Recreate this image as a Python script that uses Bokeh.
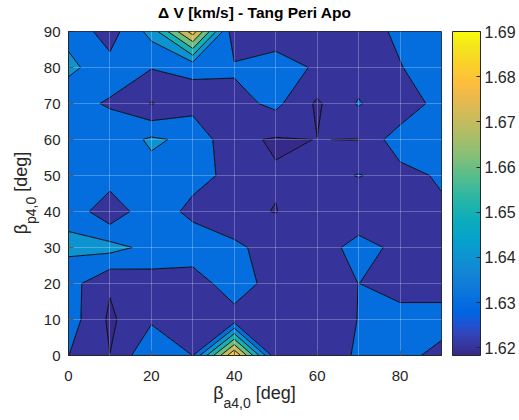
import numpy as np
from bokeh.plotting import figure
from bokeh.models import (ColorBar, LinearColorMapper, FixedTicker, Div,
                          Range1d, PrintfTickFormatter)
from bokeh.layouts import row, column
from bokeh.embed import file_html
from bokeh.resources import INLINE

# ---------------- data ----------------
beta_a4 = [0, 10, 20, 30, 40, 50, 60, 70, 80, 90]   # x grid [deg]
beta_p4 = [0, 10, 20, 30, 40, 50, 60, 70, 80, 90]   # y grid [deg]

# Delta V [km/s]; one list per beta_p4 row, values along beta_a4
dv_p00 = [1.6301, 1.6201, 1.6391, 1.6299, 1.6900, 1.6233, 1.6210, 1.6320, 1.6330, 1.6271]
dv_p10 = [1.6350, 1.6183, 1.6285, 1.6250, 1.6240, 1.6240, 1.6250, 1.6302, 1.6340, 1.6340]
dv_p20 = [1.6342, 1.6211, 1.6253, 1.6226, 1.6380, 1.6235, 1.6240, 1.6301, 1.6255, 1.6255]
dv_p30 = [1.6420, 1.6435, 1.6370, 1.6387, 1.6325, 1.6247, 1.6238, 1.6345, 1.6269, 1.6260]
dv_p40 = [1.6375, 1.6225, 1.6380, 1.6264, 1.6213, 1.6198, 1.6238, 1.6213, 1.6250, 1.6280]
dv_p50 = [1.6350, 1.6357, 1.6368, 1.6344, 1.6265, 1.6206, 1.6260, 1.6305, 1.6260, 1.6316]
dv_p60 = [1.6350, 1.6340, 1.6415, 1.6377, 1.6217, 1.6192, 1.6201, 1.6198, 1.6365, 1.6360]
dv_p70 = [1.6322, 1.6293, 1.6195, 1.6260, 1.6264, 1.6325, 1.6185, 1.6310, 1.6203, 1.6359]
dv_p80 = [1.6427, 1.6334, 1.6305, 1.6320, 1.6315, 1.6340, 1.6289, 1.6240, 1.6295, 1.6360]
dv_p90 = [1.6366, 1.6256, 1.6435, 1.6850, 1.6221, 1.6251, 1.6250, 1.6251, 1.6320, 1.6370]

contour_levels = [1.62, 1.63, 1.64, 1.65, 1.66, 1.67, 1.68]
cbar_ticks = [1.62, 1.63, 1.64, 1.65, 1.66, 1.67, 1.68, 1.69]
x_ticks = [0, 20, 40, 60, 80]
x_minor = [10, 30, 50, 70, 90]
y_ticks = [0, 10, 20, 30, 40, 50, 60, 70, 80, 90]

title_text = "\u0394 V [km/s] - Tang Peri Apo"

# parula colormap anchors (position in 0..63, rgb 0..1)
par_idx = [0, 2, 4, 6, 8, 10, 14, 18, 22, 26, 30, 34, 38, 42, 46, 50, 53, 56, 60, 63]
par_r = [0.2081, 0.2123, 0.1959, 0.1253, 0.0117, 0.0165, 0.0723, 0.0641, 0.0239, 0.0384,
         0.1453, 0.3022, 0.4871, 0.6473, 0.7858, 0.9139, 0.9938, 0.9880, 0.9589, 0.9763]
par_g = [0.1663, 0.2138, 0.2645, 0.3242, 0.3875, 0.4266, 0.4887, 0.5570, 0.6287, 0.6743,
         0.7098, 0.7376, 0.7491, 0.7456, 0.7356, 0.7258, 0.7455, 0.8066, 0.8949, 0.9831]
par_b = [0.5292, 0.6270, 0.7279, 0.8303, 0.8820, 0.8786, 0.8467, 0.8240, 0.8038, 0.7436,
         0.6646, 0.5712, 0.4840, 0.4188, 0.3633, 0.3063, 0.2403, 0.1794, 0.1132, 0.0538]

z = np.array([dv_p00, dv_p10, dv_p20, dv_p30, dv_p40, dv_p50, dv_p60, dv_p70, dv_p80, dv_p90])
zmin, zmax = float(z.min()), float(z.max())
pos = np.array(par_idx) / 63.0


def cmap_t(t):
    r = np.interp(t, pos, par_r)
    g = np.interp(t, pos, par_g)
    b = np.interp(t, pos, par_b)
    return "#%02x%02x%02x" % (int(round(r * 255)), int(round(g * 255)), int(round(b * 255)))


def cmap_v(v):
    return cmap_t((v - zmin) / (zmax - zmin))


palette = [cmap_t(t) for t in np.linspace(0, 1, 256)]

FONT = "Liberation Sans"
TXT = "#262626"

p = figure(width=478, height=362, output_backend="svg", toolbar_location=None,
           x_range=Range1d(0, 90), y_range=Range1d(0, 90),
           min_border_left=27, min_border_right=76, min_border_top=9, min_border_bottom=29,
           background_fill_color="white", border_fill_color="white", margin=0)

bounds = [zmin - 1e-4] + contour_levels + [zmax + 1e-4]
fills = [cmap_v(zmin)] + [cmap_v(l) for l in contour_levels]
p.contour(beta_a4, beta_p4, z, bounds, fill_color=fills, line_color="black", line_width=0.9)

# axes
p.xaxis.ticker = FixedTicker(ticks=x_ticks, minor_ticks=x_minor)
p.yaxis.ticker = FixedTicker(ticks=y_ticks)
for ax in (p.xaxis[0], p.yaxis[0]):
    ax.major_label_text_font = FONT
    ax.major_label_text_font_size = "15px"
    ax.major_label_text_color = TXT
    ax.axis_line_color = TXT
    ax.major_tick_line_color = TXT
    ax.major_tick_in = 5
    ax.major_tick_out = 0
    ax.minor_tick_line_color = None
p.xaxis.major_label_standoff = 11
p.yaxis.major_label_standoff = 8

p.outline_line_color = TXT

# grid on top of fills
p.xgrid.ticker = FixedTicker(ticks=x_ticks, minor_ticks=x_minor)
p.ygrid.ticker = FixedTicker(ticks=y_ticks)
for g in (p.xgrid[0], p.ygrid[0]):
    g.level = "overlay"
    g.grid_line_color = "white"
    g.grid_line_alpha = 0.25
p.xgrid.minor_grid_line_color = "white"
p.xgrid.minor_grid_line_alpha = 0.25

# colorbar
mapper = LinearColorMapper(palette=palette, low=zmin, high=zmax)
cb = ColorBar(color_mapper=mapper, ticker=FixedTicker(ticks=cbar_ticks),
              formatter=PrintfTickFormatter(format="%.2f"),
              location=(11, 0),
              width=28, height=324, padding=0, margin=0, label_standoff=4,
              major_tick_in=4, major_tick_out=0, major_tick_line_color=TXT,
              bar_line_color=TXT, major_label_text_font=FONT,
              major_label_text_font_size="16px", major_label_text_color=TXT,
              background_fill_alpha=0)
p.add_layout(cb, "right")

# title and axis titles (with subscripts) as HTML text
title_html = (
    '<div style="width:478px;text-align:center;padding-right:49px;padding-top:5px;'
    'box-sizing:border-box;font-family:\'Liberation Sans\';font-size:15.5px;font-weight:bold;'
    'color:#000000;line-height:1;white-space:nowrap;">' + title_text + '</div>'
)
ylab_html = (
    '<div style="width:40px;height:419px;display:flex;align-items:center;'
    'justify-content:center;padding-left:3px;padding-bottom:33px;box-sizing:border-box;">'
    '<div style="transform:rotate(-90deg);white-space:nowrap;font-family:\'Liberation Sans\';'
    'font-size:18px;color:#262626;line-height:1;">'
    '\u03b2<span style="font-size:14px;position:relative;top:9px;">p4,0</span> [deg]</div></div>'
)
xlab_html = (
    '<div style="width:478px;text-align:center;padding-right:49px;box-sizing:border-box;'
    'font-family:\'Liberation Sans\';font-size:18px;color:#262626;line-height:1;white-space:nowrap;">'
    '\u03b2<span style="font-size:14px;position:relative;top:9px;">a4,0</span> [deg]</div>'
)
tdiv = Div(text=title_html, width=478, height=22, margin=0)
ylab = Div(text=ylab_html, width=40, height=419, margin=0)
xlab = Div(text=xlab_html, width=478, height=35, margin=0)

layout = row(ylab, column(tdiv, p, xlab, spacing=0, margin=0), spacing=0, margin=0)

open("out.html", "w").write(file_html(layout, INLINE))
